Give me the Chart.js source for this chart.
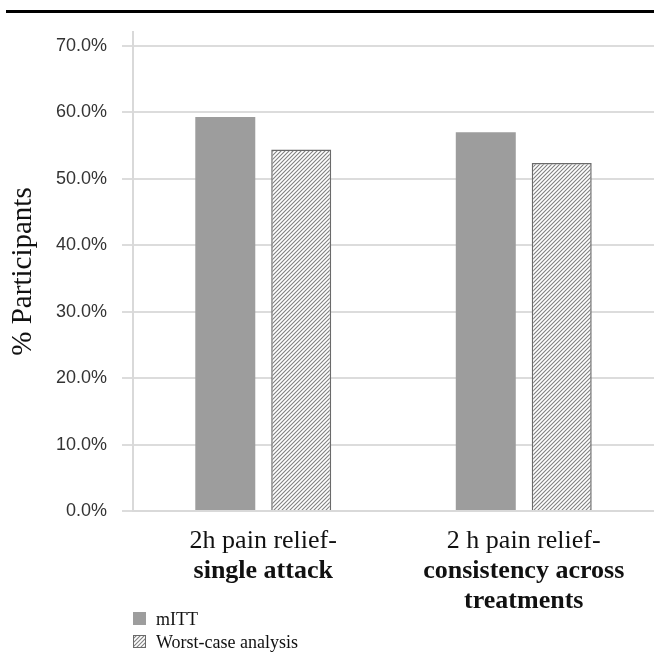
<!DOCTYPE html>
<html>
<head>
<meta charset="utf-8">
<script src="https://cdn.jsdelivr.net/npm/chart.js@4/dist/chart.umd.min.js"></script>
<style>
  body { margin: 0; background: #fff; }
  #wrap { position: relative; width: 654px; height: 654px; }
  #rule { position: absolute; left: 6px; top: 10px; width: 648px; height: 3px; background: #000; }
  canvas { position: absolute; left: 0; top: 0; }
</style>
</head>
<body>
<div id="wrap">
  <canvas id="chart" width="654" height="654"></canvas>
  <div id="rule"></div>
</div>
<script>

// category labels: first line normal, the rest bold
var categories = [
    ["2h pain relief-", "single attack"],
    ["2 h pain relief-", "consistency across", "treatments"]
];
var seriesNames = ["mITT", "Worst-case analysis"];
var mittValues = [59.3, 57.0];
var worstValues = [54.4, 52.4];
var yTickValues = [0, 10, 20, 30, 40, 50, 60, 70];

function hatch(){
    var c = document.createElement("canvas");
    c.width = 4; c.height = 4;
    var g = c.getContext("2d");
    g.fillStyle = "#fff";
    g.fillRect(0, 0, 4, 4);
    g.strokeStyle = "#808080";
    g.lineWidth = 1.1;
    g.beginPath();
    g.moveTo(-1, 5); g.lineTo(5, -1);
    g.moveTo(-1, 1); g.lineTo(1, -1);
    g.moveTo(3, 5); g.lineTo(5, 3);
    g.stroke();
    return g.createPattern(c, "repeat");
}

// draws the mixed-weight category labels and the stacked legend
var labelsPlugin = {
    id: "labels",
    afterDraw: function(chart){
        var ctx = chart.ctx;
        var xs = chart.scales.x;
        ctx.save();
        ctx.fillStyle = "#111";
        ctx.textAlign = "center";
        ctx.textBaseline = "alphabetic";
        categories.forEach(function(lines, i){
            var x = xs.getPixelForValue(i);
            lines.forEach(function(line, j){
                ctx.font = (j == 0 ? "" : "bold ") + "26px 'Liberation Serif'";
                ctx.fillText(line, x, chart.chartArea.bottom + 37 + j * 30);
            });
        });

        ctx.textAlign = "left";
        ctx.font = "18px 'Liberation Serif'";
        chart.data.datasets.forEach(function(ds, i){
            var y = 612 + i * 23;
            ctx.fillStyle = ds.backgroundColor;
            ctx.fillRect(133, y, 13, 13);
            if (ds.borderWidth){
                ctx.strokeStyle = ds.borderColor;
                ctx.lineWidth = 1;
                ctx.strokeRect(133.5, y + 0.5, 12, 12);
            }
            ctx.fillStyle = "#111";
            ctx.fillText(ds.label, 156, y + 13);
        });
        ctx.restore();
    }
};

function draw_chart(){
    new Chart("chart", {
    type: "bar",
    data: {
        labels: categories.map(function(c){ return c.join(" "); }),
        datasets: [{
            label: seriesNames[0],
            data: mittValues,
            backgroundColor: "#9d9d9d",
            borderWidth: 0,
            categoryPercentage: 0.583,
            barPercentage: 0.79
        }, {
            label: seriesNames[1],
            data: worstValues,
            backgroundColor: hatch(),
            borderColor: "#6a6a6a",
            borderWidth: 1.5,
            categoryPercentage: 0.583,
            barPercentage: 0.79
        }]
    },
    options: {
        responsive: false,
        animation: false,
        devicePixelRatio: 1,
        layout: {padding: {top: 32, left: 0, right: 0, bottom: 143}},
        plugins: {
            legend: {display: false},
            tooltip: {enabled: false}
        },
        scales: {
            x: {
                offset: true,
                grid: {display: false},
                border: {display: true, color: "#d9d9d9", width: 2},
                ticks: {display: false},
                afterFit: function(s){ s.height = 0; }
            },
            y: {
                min: 0,
                max: 72.1,
                afterBuildTicks: function(s){
                    s.ticks = yTickValues.map(function(v){ return {value: v}; });
                },
                ticks: {
                    padding: 15,
                    color: "#333",
                    font: {family: "'Liberation Sans'", size: 18},
                    callback: function(v){ return v.toFixed(1) + "%"; }
                },
                grid: {color: "#dcdcdc", lineWidth: 2, tickLength: 11},
                border: {display: true, color: "#d9d9d9", width: 2},
                title: {
                    display: true,
                    text: "% Participants",
                    color: "#111",
                    font: {family: "'Liberation Serif'", size: 29},
                    padding: {top: 6, bottom: 0}
                },
                afterFit: function(s){ s.width = 133; }
            }
        }
    },
    plugins: [labelsPlugin]
    });
}

draw_chart();
</script>
</body>
</html>
